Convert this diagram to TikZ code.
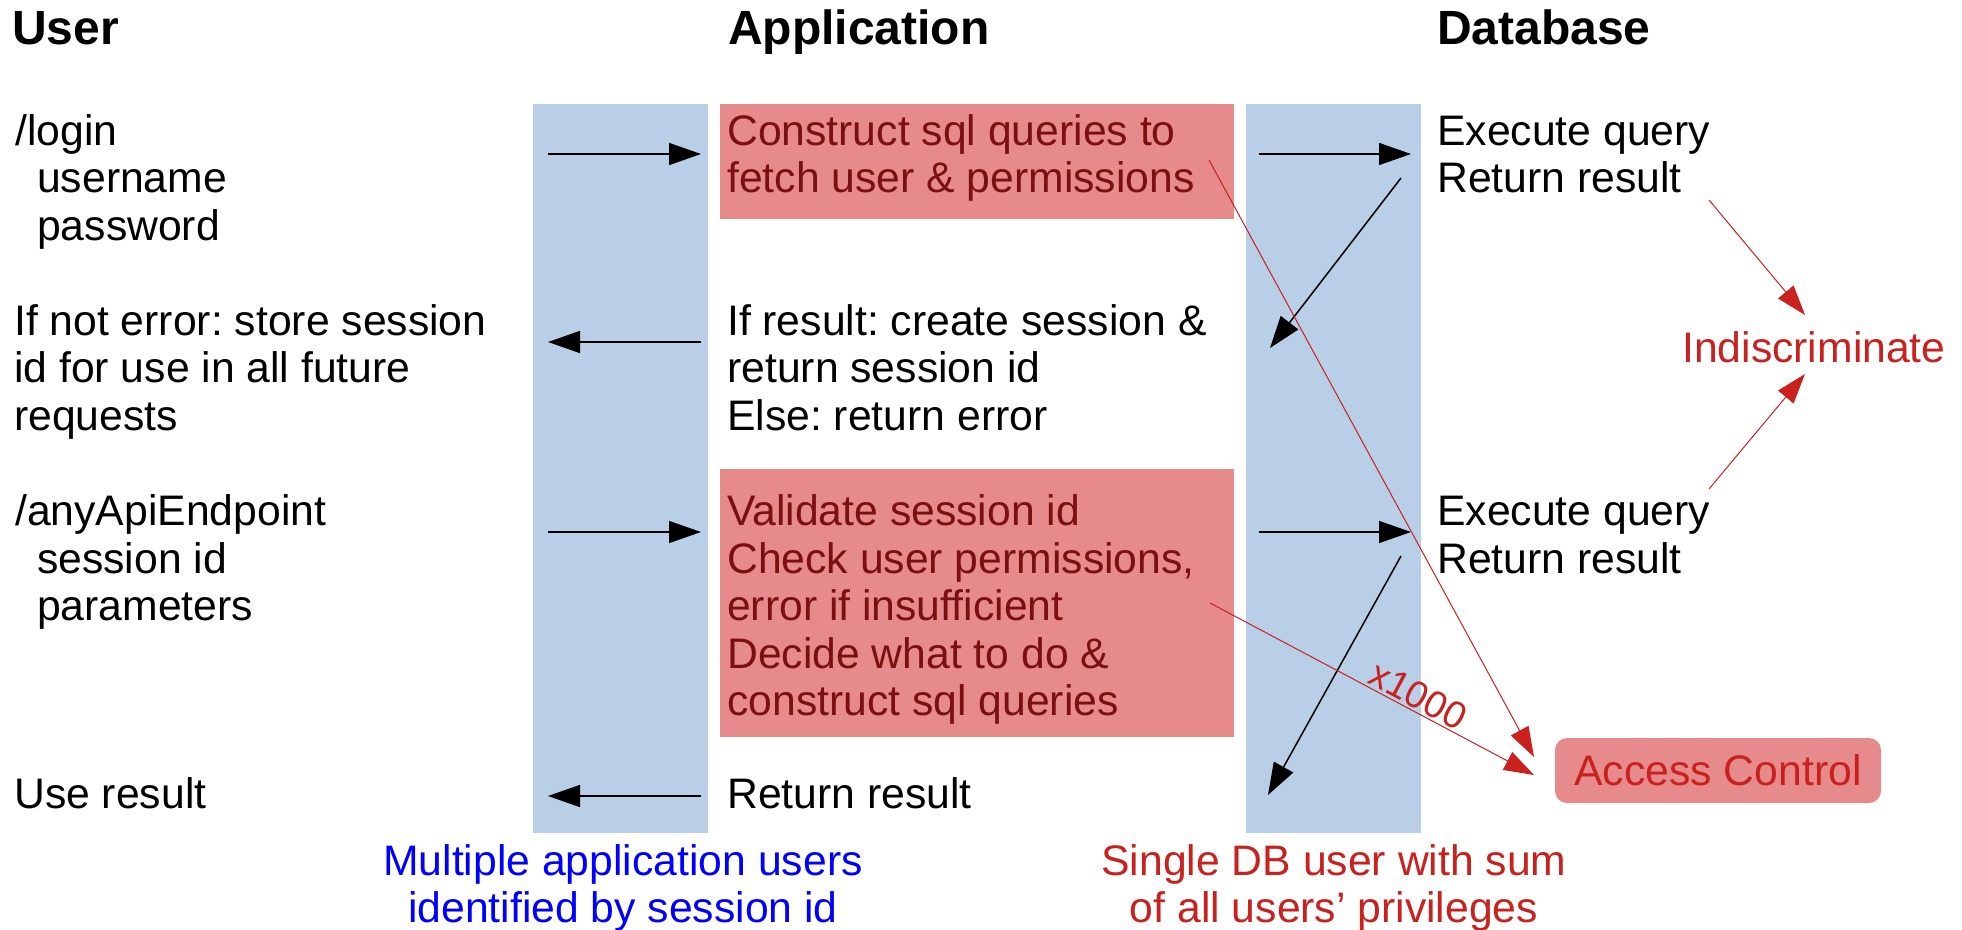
\documentclass[tikz,border=0pt]{standalone}
\usepackage{fontspec}
\setmainfont{Liberation Sans}
\usetikzlibrary{arrows.meta}
\definecolor{colblue}{HTML}{B9CFE7}
\definecolor{boxred}{HTML}{E68A8C}
\definecolor{darkred}{HTML}{7A1012}
\definecolor{acred}{HTML}{C9211E}
\definecolor{txtblue}{HTML}{0000FF}
\newcommand\mystack[1]{\vtop{\halign{##\hfil\cr#1\crcr}}}
\newcommand\mycstack[1]{\vtop{\halign{\hfil##\hfil\cr#1\crcr}}}
\frenchspacing
\begin{document}
\begin{tikzpicture}[x=1pt,y=-1pt,
  txt/.style={inner sep=0pt, anchor=base west, font=\fontsize{42.7}{47.5}\selectfont},
  ctxt/.style={inner sep=0pt, anchor=base, font=\fontsize{42.7}{47.5}\selectfont},
  title/.style={inner sep=0pt, anchor=base west, font=\fontsize{48}{52}\selectfont\bfseries},
  col/.style={fill=colblue},
  redbox/.style={fill=boxred, inner sep=0pt, anchor=north west},
  blk/.style={draw=black, line width=1.5pt, -{Triangle[length=32pt,width=22pt]}},
  rarr/.style={draw=acred, line width=1pt, -{Triangle[length=30pt,width=20pt]}},
]
\useasboundingbox (0,0) rectangle (1962,929);
\fill[white] (0,0) rectangle (1962,929);

% columns
\fill[col] (533,104) rectangle (708,833);
\fill[col] (1246,104) rectangle (1421,833);

% red boxes
\node[redbox, minimum width=514pt, minimum height=115pt] (rb1) at (720,104) {};
\node[redbox, minimum width=514pt, minimum height=268pt] (rb2) at (720,469) {};

% titles
\node[title] (tu) at (12,44) {User};
\node[title] (ta) at (728,44) {Application};
\node[title] (td) at (1437,44) {Database};

% user column
\node[txt] (u1) at (15,145) {\mystack{/login\cr\hspace*{22pt}username\cr\hspace*{22pt}password}};
\node[txt] (u2) at (14,335) {\mystack{If not error: store session\cr id for use in all future\cr requests}};
\node[txt] (u3) at (15,525.5) {\mystack{/anyApiEndpoint\cr\hspace*{22pt}session id\cr\hspace*{22pt}parameters}};
\node[txt] (u4) at (14,808) {Use result};

% application column
\node[txt, text=darkred] (p1) at (727,145) {\mystack{Construct sql queries to\cr fetch user \& permissions}};
\node[txt] (p2) at (727,335) {\mystack{If result: create session \&\cr return session id\cr Else: return error}};
\node[txt, text=darkred] (p3) at (727,525.5) {\mystack{Validate session id\cr Check user permissions,\cr error if insufficient\cr Decide what to do \&\cr construct sql queries}};
\node[txt] (p4) at (727,808) {Return result};

% database column
\node[txt] (d1) at (1437,145) {\mystack{Execute query\cr Return result}};
\node[txt] (d2) at (1437,525.5) {\mystack{Execute query\cr Return result}};

% right side
\node[txt, text=acred] (ind) at (1682,362) {Indiscriminate};
\node[fill=boxred, rounded corners=12pt, minimum width=326pt, minimum height=65pt, inner sep=0pt,
  text=acred, font=\fontsize{42.7}{47.5}\selectfont] (ac) at (1718,770.5) {Access Control};

% bottom labels
\node[ctxt, text=txtblue] (bl) at (623,875) {\mycstack{Multiple application users\cr identified by session id}};
\node[ctxt, text=acred] (br) at (1334,875) {\mycstack{Single DB user with sum\cr of all users’ privileges}};

% arrow end points
\coordinate (a1s) at (548,154);  \coordinate (a1e) at (701,154);
\coordinate (a2s) at (1259,154); \coordinate (a2e) at (1411,154);
\coordinate (a3s) at (1401,178); \coordinate (a3e) at (1270,348);
\coordinate (a4s) at (701,342);  \coordinate (a4e) at (548,342);
\coordinate (a5s) at (548,532);  \coordinate (a5e) at (701,532);
\coordinate (a6s) at (1259,532); \coordinate (a6e) at (1411,532);
\coordinate (a7s) at (1401,556); \coordinate (a7e) at (1268,795);
\coordinate (a8s) at (701,796);  \coordinate (a8e) at (548,796);
\coordinate (r1s) at (1209,160); \coordinate (r1e) at (1534,757);
\coordinate (r2s) at (1210,603); \coordinate (r2e) at (1534,775);
\coordinate (r3s) at (1709,200); \coordinate (r3e) at (1805,315);
\coordinate (r4s) at (1709,489); \coordinate (r4e) at (1805,374);

\draw[blk] (a1s) -- (a1e);
\draw[blk] (a2s) -- (a2e);
\draw[blk] (a3s) -- (a3e);
\draw[blk] (a4s) -- (a4e);
\draw[blk] (a5s) -- (a5e);
\draw[blk] (a6s) -- (a6e);
\draw[blk] (a7s) -- (a7e);
\draw[blk] (a8s) -- (a8e);

\draw[rarr] (r1s) -- (r1e);
\draw[rarr] (r2s) -- node[pos=0.62, above=2pt, sloped, inner sep=0pt, text=acred,
  font=\fontsize{38}{42}\selectfont] (x1000) {x1000} (r2e);
\draw[rarr] (r3s) -- (r3e);
\draw[rarr] (r4s) -- (r4e);
\end{tikzpicture}
\end{document}
